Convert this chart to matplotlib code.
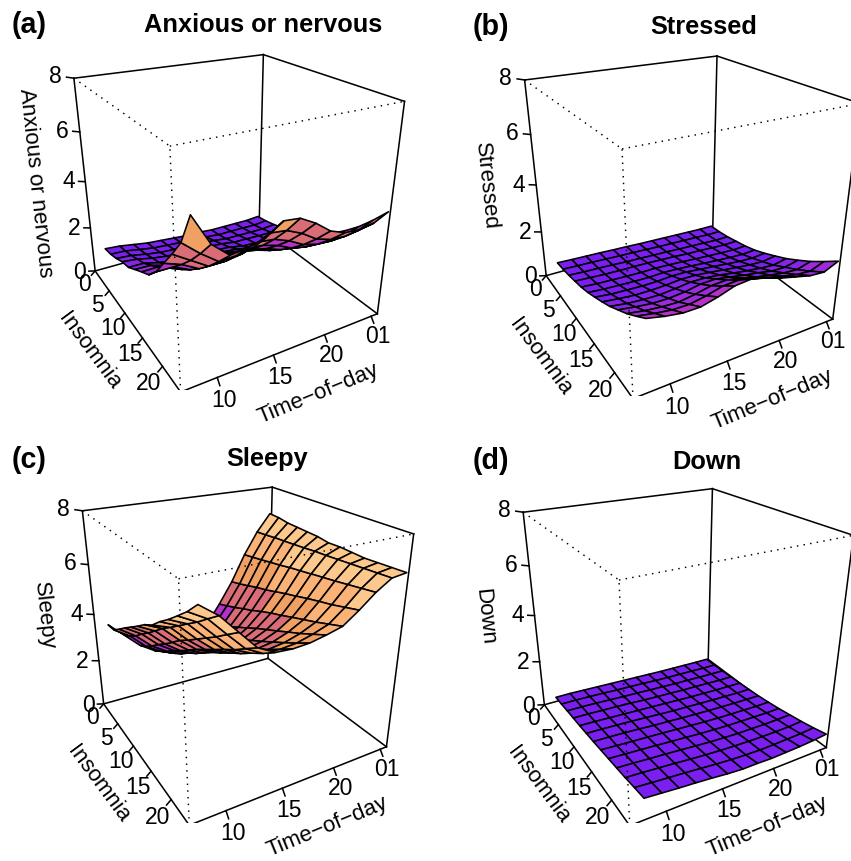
import numpy as np
import matplotlib
matplotlib.use('Agg')
from matplotlib import pyplot as plt
from matplotlib.colors import BoundaryNorm, ListedColormap
from mpl_toolkits.mplot3d import proj3d

plt.rcParams['font.family'] = ['Liberation Sans', 'DejaVu Sans']

W, H = 851, 861

time_grid = [8.2, 9.64, 11.08, 12.52, 13.97, 15.41, 16.85, 18.29, 19.73, 21.17, 22.62, 24.06, 25.5]
insomnia_grid = [0, 2, 4, 6, 8, 10, 12, 14, 16, 18, 20, 22, 24]

time_ticks = [10, 15, 20, 25]
time_tick_labels = ['10', '15', '20', '01']
insomnia_ticks = [0, 5, 10, 15, 20]
z_ticks = [0, 2, 4, 6, 8]

# rows = insomnia, columns = time of day
anxious = [
    [0.90, 0.85, 0.75, 0.65, 0.60, 0.55, 0.50, 0.50, 0.45, 0.45, 0.45, 0.45, 0.50],
    [0.98, 0.95, 0.84, 0.74, 0.69, 0.65, 0.60, 0.58, 0.52, 0.52, 0.52, 0.51, 0.57],
    [1.13, 1.08, 0.96, 0.86, 0.82, 0.79, 0.73, 0.72, 0.64, 0.63, 0.62, 0.62, 0.68],
    [1.33, 1.26, 1.12, 1.03, 1.00, 0.98, 0.92, 0.89, 0.79, 0.78, 0.76, 0.76, 0.83],
    [1.44, 1.43, 1.27, 1.19, 1.16, 1.16, 1.10, 1.06, 0.94, 0.90, 0.89, 0.90, 0.97],
    [1.71, 1.69, 1.50, 1.43, 1.41, 1.44, 1.37, 1.31, 1.18, 1.12, 1.11, 1.11, 1.20],
    [1.97, 1.98, 1.76, 1.69, 1.69, 1.76, 1.69, 1.59, 1.44, 1.37, 1.34, 1.36, 1.46],
    [2.22, 2.31, 2.05, 2.01, 2.02, 2.12, 2.05, 1.93, 1.74, 1.65, 1.63, 1.65, 1.76],
    [2.70, 2.70, 2.40, 2.37, 2.41, 2.56, 2.48, 2.33, 2.11, 2.00, 1.96, 1.99, 2.13],
    [3.38, 3.15, 2.80, 2.79, 2.85, 3.04, 2.97, 2.79, 2.51, 2.38, 2.34, 2.39, 2.55],
    [4.05, 3.65, 3.25, 3.25, 3.34, 3.60, 3.53, 3.30, 2.98, 2.82, 2.78, 2.83, 3.02],
    [4.77, 4.23, 3.77, 3.80, 3.92, 4.25, 4.17, 3.90, 3.52, 3.33, 3.28, 3.35, 3.58],
    [5.95, 4.87, 4.33, 4.40, 4.57, 4.97, 4.90, 4.57, 4.13, 3.90, 3.85, 3.93, 4.20],
]
stressed = [
    [0.45, 0.42, 0.40, 0.38, 0.35, 0.33, 0.30, 0.28, 0.26, 0.24, 0.22, 0.20, 0.20],
    [0.50, 0.47, 0.45, 0.42, 0.39, 0.37, 0.34, 0.31, 0.29, 0.27, 0.25, 0.22, 0.22],
    [0.58, 0.54, 0.52, 0.49, 0.45, 0.43, 0.40, 0.38, 0.34, 0.32, 0.29, 0.26, 0.27],
    [0.68, 0.64, 0.60, 0.58, 0.57, 0.55, 0.52, 0.49, 0.44, 0.42, 0.38, 0.35, 0.36],
    [0.79, 0.74, 0.71, 0.68, 0.66, 0.66, 0.63, 0.59, 0.54, 0.50, 0.46, 0.43, 0.45],
    [0.94, 0.88, 0.85, 0.82, 0.80, 0.82, 0.79, 0.74, 0.68, 0.63, 0.58, 0.55, 0.58],
    [1.13, 1.05, 1.02, 0.99, 0.99, 1.03, 1.01, 0.94, 0.88, 0.81, 0.74, 0.71, 0.76],
    [1.33, 1.25, 1.19, 1.18, 1.20, 1.25, 1.23, 1.16, 1.08, 1.00, 0.93, 0.89, 0.97],
    [1.55, 1.45, 1.40, 1.38, 1.43, 1.50, 1.48, 1.41, 1.30, 1.21, 1.13, 1.08, 1.19],
    [1.82, 1.72, 1.64, 1.63, 1.68, 1.79, 1.80, 1.69, 1.57, 1.48, 1.36, 1.34, 1.46],
    [2.09, 1.98, 1.91, 1.88, 1.97, 2.10, 2.13, 2.01, 1.86, 1.74, 1.64, 1.59, 1.75],
    [2.41, 2.29, 2.20, 2.19, 2.30, 2.46, 2.49, 2.36, 2.20, 2.06, 1.93, 1.88, 2.09],
    [2.75, 2.60, 2.50, 2.50, 2.65, 2.85, 2.90, 2.75, 2.55, 2.40, 2.25, 2.20, 2.45],
]
sleepy = [
    [3.45, 2.85, 2.25, 1.85, 1.60, 1.70, 2.00, 2.50, 3.30, 4.20, 5.30, 6.20, 6.90],
    [3.50, 3.10, 2.50, 2.12, 1.86, 1.95, 2.23, 2.70, 3.46, 4.32, 5.38, 6.24, 6.88],
    [3.80, 3.38, 2.80, 2.41, 2.14, 2.23, 2.48, 2.93, 3.63, 4.46, 5.46, 6.29, 6.81],
    [4.12, 3.73, 3.15, 2.74, 2.47, 2.53, 2.77, 3.17, 3.82, 4.61, 5.55, 6.32, 6.79],
    [4.42, 4.05, 3.46, 3.02, 2.75, 2.81, 3.03, 3.41, 3.99, 4.73, 5.63, 6.36, 6.77],
    [4.72, 4.40, 3.81, 3.35, 3.07, 3.12, 3.30, 3.65, 4.19, 4.88, 5.73, 6.40, 6.75],
    [5.04, 4.76, 4.17, 3.67, 3.39, 3.43, 3.59, 3.90, 4.38, 5.03, 5.81, 6.45, 6.68],
    [5.29, 5.07, 4.46, 3.96, 3.67, 3.69, 3.84, 4.12, 4.54, 5.16, 5.89, 6.48, 6.70],
    [5.67, 5.39, 4.78, 4.25, 3.96, 3.97, 4.09, 4.34, 4.72, 5.30, 5.97, 6.52, 6.68],
    [6.00, 5.72, 5.10, 4.55, 4.24, 4.25, 4.35, 4.57, 4.89, 5.43, 6.05, 6.56, 6.66],
    [6.37, 6.04, 5.42, 4.83, 4.55, 4.52, 4.61, 4.79, 5.06, 5.55, 6.14, 6.60, 6.69],
    [6.75, 6.40, 5.77, 5.16, 4.84, 4.82, 4.88, 5.04, 5.25, 5.70, 6.23, 6.64, 6.72],
    [7.20, 6.75, 6.11, 5.48, 5.17, 5.13, 5.17, 5.29, 5.44, 5.85, 6.32, 6.68, 6.75],
]
down = [
    [0.20, 0.20, 0.18, 0.16, 0.14, 0.12, 0.10, 0.08, 0.06, 0.05, 0.04, 0.03, 0.03],
    [0.23, 0.23, 0.21, 0.19, 0.16, 0.14, 0.12, 0.09, 0.07, 0.06, 0.05, 0.03, 0.03],
    [0.28, 0.27, 0.25, 0.22, 0.19, 0.17, 0.14, 0.12, 0.09, 0.08, 0.06, 0.05, 0.04],
    [0.32, 0.31, 0.28, 0.26, 0.23, 0.19, 0.16, 0.14, 0.11, 0.10, 0.08, 0.06, 0.06],
    [0.36, 0.34, 0.31, 0.28, 0.25, 0.22, 0.19, 0.16, 0.13, 0.11, 0.09, 0.08, 0.07],
    [0.41, 0.39, 0.36, 0.33, 0.29, 0.25, 0.21, 0.19, 0.16, 0.14, 0.12, 0.10, 0.10],
    [0.46, 0.44, 0.41, 0.37, 0.32, 0.29, 0.25, 0.22, 0.19, 0.17, 0.15, 0.14, 0.13],
    [0.52, 0.48, 0.44, 0.41, 0.37, 0.33, 0.29, 0.25, 0.22, 0.20, 0.19, 0.17, 0.18],
    [0.58, 0.54, 0.50, 0.46, 0.41, 0.37, 0.32, 0.29, 0.26, 0.25, 0.24, 0.23, 0.24],
    [0.64, 0.60, 0.55, 0.51, 0.46, 0.41, 0.36, 0.33, 0.30, 0.30, 0.29, 0.30, 0.32],
    [0.70, 0.66, 0.61, 0.56, 0.50, 0.45, 0.41, 0.38, 0.36, 0.35, 0.35, 0.36, 0.40],
    [0.78, 0.72, 0.67, 0.62, 0.56, 0.50, 0.45, 0.42, 0.40, 0.41, 0.43, 0.45, 0.50],
    [0.85, 0.79, 0.73, 0.68, 0.62, 0.55, 0.50, 0.50, 0.48, 0.50, 0.52, 0.56, 0.62],
]

level_breaks = [0, 1.2, 1.7, 2.3, 3.2, 4.5, 5.2, 6.0, 8]
level_colors = ['#7b1ff0', '#8624e8', '#9c2bdc', '#b531c8', '#d96c77', '#f0a063', '#fab276', '#fdc88c']
cmap = ListedColormap(level_colors)
norm = BoundaryNorm(level_breaks, cmap.N)

t_lo, t_hi = 7, 25.7
i_lo, i_hi = 0, 24

# title, letter, z, fitted scale and centre in pixels, title and letter pos
panels = [
    ('Anxious or nervous', '(a)', anxious, 2018, 228.2, 198.0, 263, 25, 12, 25),
    ('Stressed', '(b)', stressed, 2049, 681.3, 201.6, 704, 27, 473, 27),
    ('Sleepy', '(c)', sleepy, 2022, 237.0, 630.8, 267, 459, 12, 460),
    ('Down', '(d)', down, 2016, 677.3, 631.9, 707, 462, 473, 461),
]


def label(ax, x, y, z, s, size=16.5, rotation=0):
    # Text3D reports odd extents, so project first and place a plain text
    u, v, _ = proj3d.proj_transform(x, y, z, ax.get_proj())
    ax.text2D(u, v, s, transform=ax.transData, fontsize=size, rotation=rotation,
              ha='center', va='center', rotation_mode='anchor', clip_on=False)


fig = plt.figure(figsize=(W / 100, H / 100), dpi=100)

for title, letter, z, s, tx, ty, title_x, title_y, letter_x, letter_y in panels:
    left, right = tx - 0.095 * s, tx + 0.09 * s
    top, bottom = ty - 0.09 * s, ty + 0.095 * s
    ax = fig.add_axes([left / W, 1 - bottom / H, (right - left) / W, (bottom - top) / H],
                      projection='3d', computed_zorder=False)
    ax.set_xlim(t_lo, t_hi)
    ax.set_ylim(i_hi, i_lo)
    ax.set_zlim(0, 8)
    ax.view_init(elev=25.14, azim=-120.02)
    ax.set_proj_type('persp', focal_length=0.2977)
    ax.set_box_aspect((0.998, 1, 0.998))
    ax.set_axis_off()
    ax.patch.set_visible(False)

    solid = dict(color='k', lw=1.12, zorder=1)
    dotted = dict(color='k', lw=1.05, ls=(0, (1, 3.6)), zorder=3)
    # back of the box and the two labelled floor edges
    ax.plot([t_lo, t_hi], [i_lo, i_lo], [8, 8], **solid)
    ax.plot([t_hi, t_hi], [i_lo, i_hi], [8, 8], **solid)
    ax.plot([t_lo, t_hi], [i_lo, i_lo], [0, 0], **solid)
    ax.plot([t_hi, t_hi], [i_lo, i_hi], [0, 0], **solid)
    ax.plot([t_lo, t_lo], [i_lo, i_lo], [0, 8], **solid)
    ax.plot([t_hi, t_hi], [i_lo, i_lo], [0, 8], **solid)
    ax.plot([t_hi, t_hi], [i_hi, i_hi], [0, 8], **solid)
    ax.plot([t_lo, t_lo], [i_lo, i_hi], [0, 0], **solid)
    ax.plot([t_lo, t_hi], [i_hi, i_hi], [0, 0], **solid)

    X, Y = np.meshgrid(time_grid, insomnia_grid)
    Z = np.array(z, dtype=float)
    cells = (Z[:-1, :-1] + Z[1:, :-1] + Z[:-1, 1:] + Z[1:, 1:]) / 4
    colors = np.ones(Z.shape + (4,))
    colors[:-1, :-1] = cmap(norm(cells))
    ax.plot_surface(X, Y, Z, rstride=1, cstride=1, facecolors=colors, shade=False,
                    edgecolor='k', linewidth=1.15, antialiased=True, zorder=2)

    # nearest box edges, dotted on top of the surface
    ax.plot([t_lo, t_lo], [i_lo, i_hi], [8, 8], **dotted)
    ax.plot([t_lo, t_hi], [i_hi, i_hi], [8, 8], **dotted)
    ax.plot([t_lo, t_lo], [i_hi, i_hi], [0, 8], **dotted)

    tick = dict(color='k', lw=1.12, zorder=1)
    for t, lab in zip(time_ticks, time_tick_labels):
        ax.plot([t, t], [i_hi, i_hi + 0.5], [0, -0.2], **tick)
        label(ax, t, i_hi + 1.3, -0.6, lab)
    for i in insomnia_ticks:
        ax.plot([t_lo, t_lo - 0.4], [i, i], [0, -0.15], **tick)
        label(ax, t_lo - 1.2, i, -0.5, str(i))
    for v in z_ticks:
        ax.plot([t_lo, t_lo - 0.6], [i_lo, i_lo], [v, v + 0.07], **tick)
        label(ax, t_lo - 1.5, i_lo, v + 0.14, str(v))

    label(ax, 16.7, i_hi + 4.6, -0.75, 'Time\u2212of\u2212day', 16, 22.3)
    label(ax, t_lo - 3.8, 12, -0.6, 'Insomnia', 16, -53.5)
    label(ax, t_lo - 4.3, i_lo, 4.35, title, 16, -84)

    fig.text(title_x / W, 1 - title_y / H, title, fontsize=18.3, fontweight='bold',
             ha='center', va='center')
    fig.text(letter_x / W, 1 - letter_y / H, letter, fontsize=20.6, fontweight='bold',
             ha='left', va='center')

fig.savefig('out.png', dpi=100)
